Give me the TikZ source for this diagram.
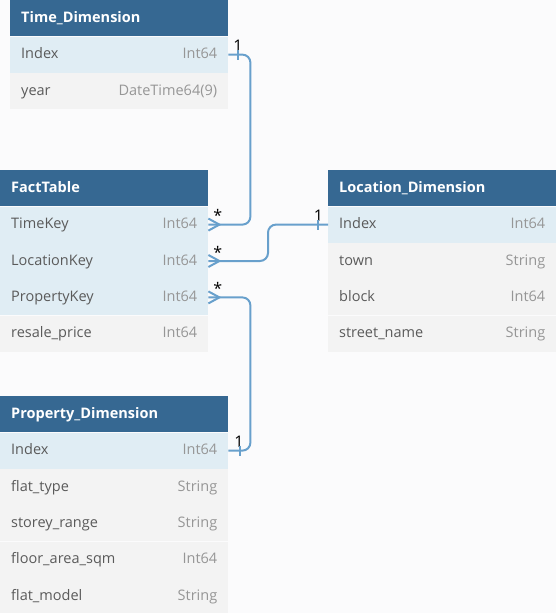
\documentclass[tikz,border=0pt]{standalone}
\usepackage{fontspec}
\setmainfont{Open Sans}
\usepackage{tikz}
\usetikzlibrary{positioning}
\definecolor{PageBg}{RGB}{251,251,252}
\definecolor{HeadBlue}{RGB}{54,104,146}
\definecolor{KeyBlue}{RGB}{224,237,244}
\definecolor{RowGrey}{RGB}{243,243,243}
\definecolor{NameGrey}{RGB}{90,90,90}
\definecolor{TypeGrey}{RGB}{150,150,150}
\definecolor{LinkBlue}{RGB}{104,160,204}

\tikzset{
  tblhead/.style={fill=HeadBlue, text=white, font=\fontsize{14.5}{16}\selectfont\bfseries, anchor=north west, minimum height=36pt, inner xsep=11pt, inner ysep=0pt, text height=8pt, text depth=0pt, align=left},
  tblkey/.style={tblhead, fill=KeyBlue, text=NameGrey, font=\fontsize{14.5}{16}\selectfont},
  tblrow/.style={tblkey, fill=RowGrey},
  coltype/.style={text=TypeGrey, font=\fontsize{14.5}{16}\selectfont, inner xsep=11pt, inner ysep=0pt, text height=8pt, text depth=0pt, align=right},
  conn/.style={draw=LinkBlue, line width=2pt, rounded corners=8pt},
  card/.style={text=black, font=\fontsize{16}{18}\selectfont, inner sep=0pt},
}

\begin{document}
\begin{tikzpicture}[x=1pt, y=-1pt]
    \fill[PageBg] (0,0) rectangle (556,613);
    \useasboundingbox (0,0) rectangle (556,613);

    % Time_Dimension
    \begin{scope}[every node/.append style={text width=196pt}]
    \node[tblhead] (time) at (10,0) {Time\_Dimension};
    \node[tblkey, below=0pt of time]    (time-idx) {Index};
    \node[tblrow, below=0pt of time-idx] (time-yr) {year};
    \node[coltype] at (time-idx) {Int64};
    \node[coltype] at (time-yr)  {DateTime64(9)};
    \end{scope}

    % FactTable
    \begin{scope}[every node/.append style={text width=186pt}]
    \node[tblhead] (fact) at (0,170) {FactTable};
    \node[tblkey, below=0pt of fact]      (fact-time)  {TimeKey};
    \node[tblkey, below=0pt of fact-time] (fact-loc)   {LocationKey};
    \node[tblkey, below=0pt of fact-loc]  (fact-prop)  {PropertyKey};
    \node[tblrow, below=0pt of fact-prop] (fact-price) {resale\_price};
    \node[coltype] at (fact-time)  {Int64};
    \node[coltype] at (fact-loc)   {Int64};
    \node[coltype] at (fact-prop)  {Int64};
    \node[coltype] at (fact-price) {Int64};
    \end{scope}

    % Location_Dimension
    \begin{scope}[every node/.append style={text width=206pt}]
    \node[tblhead] (loc) at (328,170) {Location\_Dimension};
    \node[tblkey, below=0pt of loc]       (loc-idx)    {Index};
    \node[tblrow, below=0pt of loc-idx]   (loc-town)   {town};
    \node[tblrow, below=0pt of loc-town]  (loc-block)  {block};
    \node[tblrow, below=0pt of loc-block] (loc-street) {street\_name};
    \node[coltype] at (loc-idx)    {Int64};
    \node[coltype] at (loc-town)   {String};
    \node[coltype] at (loc-block)  {Int64};
    \node[coltype] at (loc-street) {String};
    \end{scope}

    % Property_Dimension
    \begin{scope}[every node/.append style={text width=206pt}]
    \node[tblhead] (prop) at (0,396) {Property\_Dimension};
    \node[tblkey, below=0pt of prop]        (prop-idx)    {Index};
    \node[tblrow, below=0pt of prop-idx]    (prop-type)   {flat\_type};
    \node[tblrow, below=0pt of prop-type]   (prop-storey) {storey\_range};
    \node[tblrow, below=0pt of prop-storey] (prop-area)   {floor\_area\_sqm};
    \node[tblrow, below=0pt of prop-area]   (prop-model)  {flat\_model};
    \node[coltype] at (prop-idx)    {Int64};
    \node[coltype] at (prop-type)   {String};
    \node[coltype] at (prop-storey) {String};
    \node[coltype] at (prop-area)   {Int64};
    \node[coltype] at (prop-model)  {String};
    \end{scope}

    % relations
    \draw[conn] (time-idx.east) node[card, anchor=base west, xshift=4pt, yshift=3pt] {1} -- ++(22,0) |- (fact-time.east) node[card, anchor=base west, xshift=4pt, yshift=3pt] {*};
    \draw[conn] (loc-idx.west) node[card, anchor=base east, xshift=-4pt, yshift=3pt] {1} -- ++(-60,0) |- (fact-loc.east) node[card, anchor=base west, xshift=4pt, yshift=3pt] {*};
    \draw[conn] (prop-idx.east) node[card, anchor=base west, xshift=5pt, yshift=3pt] {1} -- ++(22,0) |- (fact-prop.east) node[card, anchor=base west, xshift=4pt, yshift=3pt] {*};

    % one ends
    \draw[conn] (time-idx.east) ++(10,-5) -- ++(0,10);
    \draw[conn] (loc-idx.west) ++(-10,-5) -- ++(0,10);
    \draw[conn] (prop-idx.east) ++(12,-5) -- ++(0,10);

    % many ends
    \draw[conn, rounded corners=0pt] (fact-time.east) ++(0,-6) -- ++(11,6) -- ++(-11,6);
    \draw[conn, rounded corners=0pt] (fact-loc.east) ++(0,-6) -- ++(11,6) -- ++(-11,6);
    \draw[conn, rounded corners=0pt] (fact-prop.east) ++(0,-6) -- ++(11,6) -- ++(-11,6);
\end{tikzpicture}
\end{document}
